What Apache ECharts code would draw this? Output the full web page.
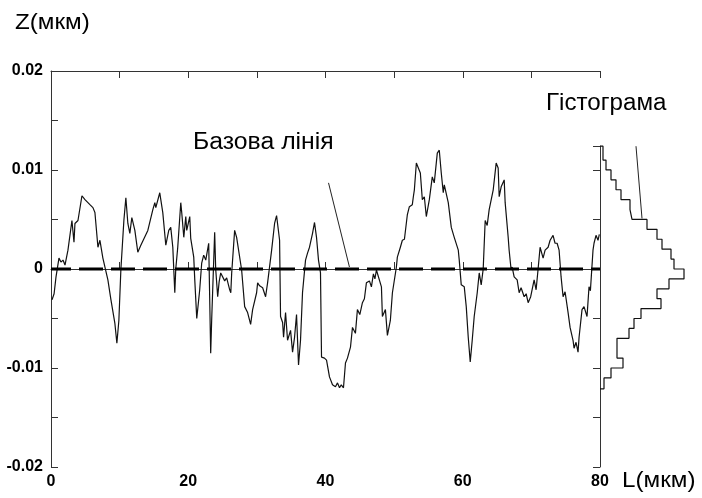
<!DOCTYPE html>
<html>
<head>
<meta charset="utf-8">
<script src="https://cdn.jsdelivr.net/npm/echarts@6/dist/echarts.min.js"></script>
<style>html,body{margin:0;padding:0;background:#fff;}#c{width:702px;height:498px;}</style>
</head>
<body>
<div id="c"></div>
<script>
// Profile: L (мкм) and Z (мкм)
const profileL = [0.15,0.45,0.73,1.16,1.45,1.75,2.04,2.47,3.05,3.35,3.49,3.93,4.51,4.95,5.2,5.67,6.11,6.40,6.84,7.13,7.56,7.85,8.29,8.73,9.31,9.60,9.89,10.18,10.62,10.91,11.20,11.49,11.78,12.0,12.22,12.65,13.09,13.38,14.11,14.84,15.13,15.27,15.85,16.0,16.29,16.73,17.16,17.45,17.75,18.04,18.18,18.47,18.91,19.05,19.35,19.64,19.78,20.22,20.36,20.80,20.95,21.24,21.67,21.96,22.25,22.55,22.98,23.27,23.42,23.85,24.0,24.29,24.5,24.73,25.31,25.6,26.04,26.2,26.33,26.76,27.05,27.3,27.78,28.22,28.65,29.09,29.38,29.96,30.11,30.4,30.84,31.27,31.56,32.15,32.58,32.87,33.16,33.31,33.45,33.75,33.89,34.18,34.47,34.91,35.2,35.49,35.78,36.07,36.36,36.65,37.09,37.38,37.67,38.11,38.4,38.69,38.98,39.27,39.42,39.85,40.15,40.58,41.02,41.45,41.75,42.04,42.3,42.62,42.91,43.2,43.64,43.93,44.36,44.65,45.0,45.38,45.67,45.96,46.4,46.69,46.98,47.2,47.42,47.71,48.15,48.29,48.73,49.02,49.45,49.75,50.33,50.47,50.91,51.2,51.5,51.93,52.22,52.65,52.8,52.95,53.24,53.53,53.82,54.11,54.4,54.69,55.13,55.56,55.85,56.29,56.58,56.87,57.16,57.31,57.89,58.33,58.76,59.35,59.49,59.78,60.22,60.51,60.8,61.09,61.38,61.67,62.11,62.4,62.69,62.98,63.27,63.56,63.85,64.44,64.87,65.16,65.31,65.6,66.04,66.18,66.62,66.76,67.05,67.2,67.49,67.93,68.22,68.5,68.95,69.24,69.53,69.9,70.11,70.4,70.69,70.98,71.27,71.71,72.0,72.44,72.73,73.16,73.45,73.75,74.04,74.33,74.62,74.91,75.35,75.64,76.07,76.22,76.51,76.8,76.95,77.38,77.67,78.11,78.4,78.6,78.98,79.13,79.42,79.71,79.9];
const profileZ = [-0.0031,-0.0025,-0.0008,0.0011,0.0007,0.0009,0.0004,0.0019,0.0049,0.0027,0.0046,0.0049,0.0074,0.0070,0.0071,0.0065,0.0062,0.0057,0.0022,0.0029,0.0011,0.0009,-0.0011,-0.0031,-0.0055,-0.0075,-0.0052,-0.0001,0.0049,0.0072,0.0046,0.0036,0.0052,0.0053,0.0039,0.0017,0.0024,0.0022,0.0039,0.0060,0.0067,0.0062,0.0077,0.0070,0.0057,0.0024,0.0039,0.0042,0.0022,-0.0024,0.0000,0.0022,0.0067,0.0057,0.0032,0.0053,0.0039,0.0053,0.0031,0.0012,-0.0011,-0.0050,-0.0021,0.0006,0.0014,0.0009,0.0026,-0.0085,-0.0050,0.0037,0.0000,-0.0028,-0.0013,-0.0004,-0.0012,-0.0009,-0.0021,-0.0024,-0.0004,0.0039,0.0032,0.0033,-0.0001,-0.0038,-0.0044,-0.0056,-0.0041,-0.0024,-0.0014,-0.0017,-0.0019,-0.0028,-0.0014,0.0019,0.0046,0.0054,0.0054,0.0029,-0.0048,-0.0054,-0.0069,-0.0044,-0.0072,-0.0062,-0.0084,-0.0069,-0.0046,-0.0097,-0.0072,-0.0024,0.0009,0.0016,0.0022,0.0036,0.0047,0.0032,0.0009,-0.0004,-0.0089,-0.0090,-0.0092,-0.0109,-0.0117,-0.0119,-0.0115,-0.0120,-0.0117,-0.0120,-0.0095,-0.0090,-0.0079,-0.0059,-0.0065,-0.0041,-0.0046,-0.0034,-0.0030,-0.0014,-0.0012,-0.0018,-0.0005,-0.0010,-0.0001,-0.0001,-0.0018,-0.0048,-0.0041,-0.0067,-0.0052,-0.0024,0.0002,0.0012,0.0022,0.0029,0.0030,0.0055,0.0063,0.0065,0.0073,0.0080,0.0107,0.0109,0.0097,0.0070,0.0073,0.0053,0.0070,0.0093,0.0087,0.0117,0.0120,0.0097,0.0077,0.0085,0.0067,0.0042,0.0032,0.0019,0.0009,-0.0016,-0.0018,-0.0038,-0.0069,-0.0094,-0.0072,-0.0048,-0.0024,-0.0004,-0.0016,0.0000,0.0049,0.0044,0.0060,0.0080,0.0107,0.0102,0.0073,0.0083,0.0090,0.0067,0.0032,0.0019,-0.0001,0.0002,-0.0008,-0.0011,-0.0024,-0.0019,-0.0028,-0.0025,-0.0034,-0.0028,-0.0030,-0.0011,-0.0021,0.0000,0.0022,0.0011,0.0019,0.0022,0.0029,0.0034,0.0026,0.0026,0.0019,-0.0008,-0.0028,-0.0023,-0.0044,-0.0059,-0.0072,-0.0080,-0.0074,-0.0084,-0.0069,-0.0041,-0.0038,-0.0048,-0.0018,-0.0022,0.0019,0.0026,0.0034,0.0029,0.0035];

// Base line (Z = 0) across the profile length
const baseL = [0, 80];
const baseZ = [0, 0];

// Histogram: bin edges in Z (top to bottom) and counts per bin
const histEdges = [0.0124,0.011,0.010,0.009,0.008,0.007,0.006,0.005,0.004,0.003,0.002,0.001,0.000,-0.001,-0.002,-0.003,-0.004,-0.005,-0.006,-0.007,-0.008,-0.009,-0.010,-0.011,-0.0121];
const histCounts = [3,6,11,16,21,30,32,47,57,62,71,74,84,69,57,61,41,34,29,17,17,23,11,4];

// Axis ticks
const xTicks = [0, 20, 40, 60, 80];
const yTickLabels = ['-0.02', '-0.01', '0', '0.01', '0.02'];

// Annotation pointer lines [from, to] in data coordinates
const basePointer = [[40.44, 0.0087], [43.49, 0.0002]];
const histPointer = [[36, 0.0124], [42, 0.0051]];

const profileData = profileL.map((l, i) => [l, profileZ[i]]);
const baseData = baseL.map((l, i) => [l, baseZ[i]]);
const histData = [[0, histEdges[0]]];
histCounts.forEach((c, i) => { histData.push([c, histEdges[i]]); histData.push([c, histEdges[i + 1]]); });
histData.push([0, histEdges[histEdges.length - 1]]);

const tickFont = "'Liberation Sans', Arial, sans-serif";
const textFont = "'Liberation Sans', Arial, sans-serif";
const axisColor = '#333';

const chart = echarts.init(document.getElementById('c'), null, {renderer: 'canvas'});
chart.setOption({
  animation: false,
  backgroundColor: '#fff',
  grid: [
    {left: 51, top: 71, width: 549, height: 396},
    {left: 600, top: 146.2, width: 100, height: 320.8}
  ],
  xAxis: [
    {type: 'value', gridIndex: 0, min: 0, max: 80, interval: 10, position: 'bottom',
      axisLine: {show: true, lineStyle: {color: axisColor, width: 1}},
      axisTick: {show: true, inside: true, length: 7, lineStyle: {color: axisColor}},
      splitLine: {show: false},
      axisLabel: {margin: 7, color: '#000', fontFamily: tickFont, fontWeight: 'bold', fontSize: 16,
        formatter: v => xTicks.includes(v) ? String(v) : ''}},
    {type: 'value', gridIndex: 0, min: 0, max: 80, interval: 10, position: 'top',
      axisLine: {show: true, onZero: false, lineStyle: {color: axisColor, width: 1}},
      axisTick: {show: true, inside: true, length: 7, lineStyle: {color: axisColor}},
      splitLine: {show: false}, axisLabel: {show: false}},
    {type: 'value', gridIndex: 1, min: 0, max: 100, show: false}
  ],
  yAxis: [
    {type: 'value', gridIndex: 0, min: -0.02, max: 0.02, interval: 0.005,
      axisLine: {show: true, onZero: false, lineStyle: {color: axisColor, width: 1}},
      axisTick: {show: true, inside: true, length: 7, lineStyle: {color: axisColor}},
      splitLine: {show: false},
      axisLabel: {margin: 8, color: '#000', fontFamily: tickFont, fontWeight: 'bold', fontSize: 16,
        formatter: v => {
          const k = Math.round(v * 100);
          if (Math.abs(v * 100 - k) > 1e-6) return '';
          const s = k === 0 ? '0' : (k / 100).toFixed(2);
          return yTickLabels.includes(s) ? s : '';
        }}},
    {type: 'value', gridIndex: 1, min: -0.02, max: 0.0124, interval: 0.005,
      axisLine: {show: true, onZero: false, lineStyle: {color: axisColor, width: 1}},
      axisTick: {show: true, inside: false, length: 7, lineStyle: {color: axisColor}},
      splitLine: {show: false}, axisLabel: {show: false}}
  ],
  series: [
    {type: 'line', xAxisIndex: 0, yAxisIndex: 0, data: profileData, symbol: 'none',
      lineStyle: {color: '#111', width: 1.2}, silent: true, z: 2},
    {type: 'line', xAxisIndex: 0, yAxisIndex: 0, data: baseData, symbol: 'none',
      lineStyle: {color: '#000', width: 3, type: [24, 8], dashOffset: 4}, silent: true, z: 3,
      markLine: {symbol: 'none', silent: true, label: {show: false},
        lineStyle: {color: '#222', width: 1, type: 'solid'},
        data: [[{coord: basePointer[0]}, {coord: basePointer[1]}]]}},
    {type: 'line', xAxisIndex: 2, yAxisIndex: 1, data: histData, symbol: 'none',
      lineStyle: {color: '#111', width: 1.2}, silent: true, clip: false, z: 2,
      markLine: {symbol: 'none', silent: true, label: {show: false},
        lineStyle: {color: '#222', width: 1, type: 'solid'},
        data: [[{coord: histPointer[0]}, {coord: histPointer[1]}]]}}
  ],
  graphic: [
    {type: 'text', x: 15, y: 23, scaleX: 1.1, style: {text: 'Z(мкм)', fill: '#000', font: "22px " + textFont, verticalAlign: 'middle', align: 'left'}},
    {type: 'text', x: 622, y: 481, scaleX: 1.1, style: {text: 'L(мкм)', fill: '#000', font: "22px " + textFont, verticalAlign: 'middle', align: 'left'}},
    {type: 'text', x: 193, y: 143, scaleX: 1.077, style: {text: 'Базова лінія', fill: '#000', font: "23px " + textFont, verticalAlign: 'middle', align: 'left'}},
    {type: 'text', x: 546, y: 104, scaleX: 1.05, style: {text: 'Гістограма', fill: '#000', font: "23px " + textFont, verticalAlign: 'middle', align: 'left'}}
  ]
});
</script>
</body>
</html>
